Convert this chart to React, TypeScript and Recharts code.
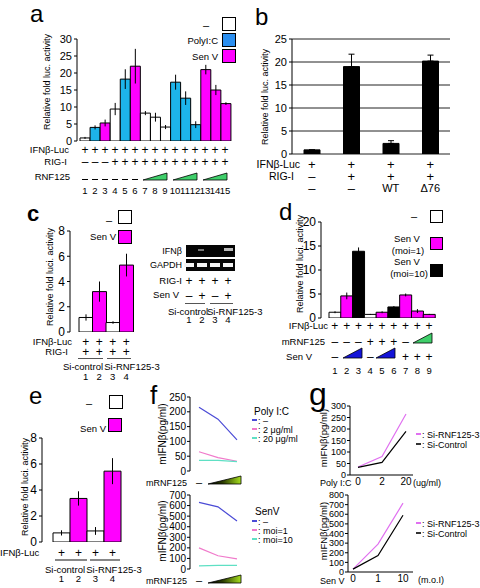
import React from 'react';
import { BarChart, Bar, XAxis, YAxis, CartesianGrid, ErrorBar, Cell, LineChart, Line } from 'recharts';

const FONT = '"Liberation Sans", Arial, Helvetica, sans-serif';
const MAG = '#ff00ff';
const SKY = '#1db4ea';
const SKY_KEY = '#2b8ff0';
const WHITE = '#ffffff';
const BLACK = '#000000';
const GREEN = '#3fcf6a';
const ROYAL = '#1414d8';

// a: IFNb-luc, RIG-I, RNF125 titration
const aLanes = ['1', '2', '3', '4', '5', '6', '7', '8', '9', '10', '11', '12', '13', '14', '15'];
const aTreat = ['-', 'pic', 'sev', '-', 'pic', 'sev', '-', '-', '-', 'pic', 'pic', 'pic', 'sev', 'sev', 'sev'];
const aFold = [0.9, 4.0, 5.3, 9.4, 18.2, 22.0, 8.2, 7.0, 4.1, 17.3, 12.6, 4.8, 21.0, 15.0, 11.0];
const aErr = [0.3, 0.6, 1.0, 1.8, 2.9, 5.1, 0.6, 1.3, 0.6, 2.2, 2.0, 1.0, 1.4, 1.5, 0.4];
const aRigI = ['–', '–', '–', '+', '+', '+', '+', '+', '+', '+', '+', '+', '+', '+', '+'];
const aWedges = [[7, 9], [10, 12], [13, 15]];

// b: RNF125 WT vs delta76
const bLanes = ['1', '2', '3', '4'];
const bFold = [0.9, 19.0, 2.3, 20.2];
const bErrUp = [0, 2.7, 0.6, 1.3];
const bIfnLuc = ['+', '+', '+', '+'];
const bRigI = ['–', '+', '+', '+'];
const bRnf = ['–', '–', 'WT', 'Δ76'];

// c: si-RNA knockdown
const cLanes = ['1', '2', '3', '4'];
const cTreat = ['-', 'sev', '-', 'sev'];
const cFold = [1.15, 3.2, 0.75, 5.3];
const cErr = [0.25, 0.8, 0.1, 0.9];

// d: mouse RNF125
const dLanes = ['1', '2', '3', '4', '5', '6', '7', '8', '9'];
const dTreat = ['-', 'moi1', 'moi10', '-', 'moi1', 'moi10', 'moi1', 'moi1', 'moi1'];
const dFold = [1.2, 4.6, 13.9, 0.75, 1.2, 2.3, 4.8, 1.45, 0.75];
const dErr = [0.2, 0.7, 0.8, 0.1, 0.2, 0.2, 0.3, 0.4, 0.1];
const dMrnf = ['–', '–', '–', '+', '+', '+', '–'];
const dSenV = ['–', '', '', '–', '', '', '+', '+', '+'];

// e: si-RNA, no RIG-I
const eLanes = ['1', '2', '3', '4'];
const eTreat = ['-', 'sev', '-', 'sev'];
const eFold = [0.7, 3.35, 0.85, 5.45];
const eErr = [0.2, 0.55, 0.3, 1.0];

// f: IFNb ELISA vs mRNF125 dose
const fDose = ['low', 'mid', 'high'];
const fPicNone = [215, 175, 105];
const fPic2 = [65, 45, 33];
const fPic20 = [36, 36, 32];
const fSevNone = [630, 588, 455];
const fSevMoi1 = [200, 125, 95];
const fSevMoi10 = [30, 35, 35];

// g: IFNb ELISA, si-RNF125-3 vs si-control
const gPicDose = ['0', '2', '20'];
const gPicRnf = [35, 80, 265];
const gPicCtl = [33, 55, 190];
const gSevDose = ['0', '1', '10'];
const gSevRnf = [30, 290, 715];
const gSevCtl = [30, 170, 590];

const treatFill: Record<string, string> = { '-': WHITE, pic: SKY, sev: MAG, moi1: MAG, moi10: BLACK };

const Txt = ({ x, y, s = 9.5, a = 'c', children, style }: any) => {
  const tx = a === 'l' ? '0' : a === 'r' ? '-100%' : '-50%';
  return (
    <div style={{ position: 'absolute', left: x, top: y, transform: `translate(${tx}, -50%)`, fontSize: s, lineHeight: 1, whiteSpace: 'nowrap', ...style }}>
      {children}
    </div>
  );
};

const VTxt = ({ x, y, s = 9, children }: any) => (
  <div style={{ position: 'absolute', left: x, top: y, transform: 'translate(-50%, -50%) rotate(-90deg)', fontSize: s, lineHeight: 1, whiteSpace: 'nowrap' }}>
    {children}
  </div>
);

const Swatch = ({ x, y, w = 14, h = 14, fill }: any) => (
  <div style={{ position: 'absolute', left: x, top: y, width: w, height: h, background: fill, border: '1px solid #000', boxSizing: 'border-box' }} />
);

const HLine = ({ x1, x2, y, c = '#000', t = 1 }: any) => (
  <div style={{ position: 'absolute', left: x1, top: y, width: x2 - x1, height: t, background: c }} />
);

const Wedge = ({ x1, x2, yb, h, fill, grad }: any) => {
  const w = x2 - x1;
  const id = `g${x1}${yb}`;
  return (
    <svg style={{ position: 'absolute', left: x1, top: yb - h, overflow: 'visible' }} width={w} height={h}>
      {grad && (
        <defs>
          <linearGradient id={id} x1="0" x2="1" y1="0" y2="0">
            <stop offset="0" stopColor="#000" />
            <stop offset="0.45" stopColor="#2a3a00" />
            <stop offset="1" stopColor="#a6e01e" />
          </linearGradient>
        </defs>
      )}
      <polygon points={`0,${h} ${w},${h} ${w},0`} fill={grad ? `url(#${id})` : fill} stroke="#000" strokeWidth={0.8} />
    </svg>
  );
};

function BarPanel({ x0, y0, w, h, yw, rows, max, ticks, padL, padR, barSize, fills, grid, capW = 0, fs = 11 }: any) {
  const mt = 8;
  const mb = 8;
  const mr = 2;
  return (
    <div style={{ position: 'absolute', left: x0 - yw, top: y0 - mt }}>
      <BarChart width={yw + w + mr} height={mt + h + mb} data={rows} margin={{ top: mt, right: mr, bottom: mb, left: 0 }} barCategoryGap={0} barGap={0}>
        {grid && <CartesianGrid vertical={false} stroke="#222" />}
        <XAxis dataKey="lane" height={0} tick={false} tickLine={false} axisLine={{ stroke: '#000' }} padding={{ left: padL, right: padR }} />
        <YAxis width={yw} domain={[0, max]} ticks={ticks} interval={0} tickSize={3} tickMargin={2} tick={{ fill: '#000', fontSize: fs }} axisLine={{ stroke: '#000' }} tickLine={{ stroke: '#000' }} allowDataOverflow />
        <Bar dataKey="v" barSize={barSize} stroke="#000" strokeWidth={1} isAnimationActive={false}>
          {rows.map((_r: any, i: number) => (
            <Cell key={`c-${i}`} fill={fills[i]} />
          ))}
          <ErrorBar dataKey="e" width={capW} stroke="#000" strokeWidth={1} direction="y" isAnimationActive={false} />
        </Bar>
      </BarChart>
    </div>
  );
}

function LinePanel({ x0, y0, w, h, yw, rows, max, ticks, padL, padR, series, showX, fs = 10 }: any) {
  const mt = 8;
  const xh = showX ? 14 : 0;
  const mb = 7;
  const mr = 2;
  return (
    <div style={{ position: 'absolute', left: x0 - yw, top: y0 - mt }}>
      <LineChart width={yw + w + mr} height={mt + h + xh + mb} data={rows} margin={{ top: mt, right: mr, bottom: mb, left: 0 }}>
        <XAxis
          dataKey="x"
          height={xh}
          padding={{ left: padL, right: padR }}
          axisLine={{ stroke: '#000' }}
          tickLine={showX ? false : { stroke: '#000' }}
          mirror={!showX}
          tickSize={showX ? 2 : 3}
          tickMargin={1}
          tick={showX ? { fill: '#000', fontSize: 10 } : false}
          interval={0}
        />
        <XAxis xAxisId="top" orientation="top" dataKey="x" height={0} tick={false} tickLine={false} axisLine={{ stroke: '#000' }} />
        <YAxis width={yw} domain={[0, max]} ticks={ticks} interval={0} tickSize={3} tickMargin={1} tick={{ fill: '#000', fontSize: fs }} axisLine={{ stroke: '#000' }} tickLine={{ stroke: '#000' }} />
        <YAxis yAxisId="right" orientation="right" width={0} tick={false} tickLine={false} axisLine={{ stroke: '#000' }} />
        {series.map((s: any) => (
          <Line key={s.key} dataKey={s.key} stroke={s.color} strokeWidth={1.2} dot={false} isAnimationActive={false} />
        ))}
      </LineChart>
    </div>
  );
}

const LegendLine = ({ x, y, color, label }: any) => (
  <>
    <HLine x1={x} x2={x + 5} y={y - 2} c={color} t={1.5} />
    <Txt x={x + 6} y={y} a="l" s={9}>{label}</Txt>
  </>
);

export default function App() {
  const aRows = aLanes.map((lane, i) => ({ lane, v: aFold[i], e: aErr[i] }));
  const bRows = bLanes.map((lane, i) => ({ lane, v: bFold[i], e: [0, bErrUp[i]] }));
  const cRows = cLanes.map((lane, i) => ({ lane, v: cFold[i], e: cErr[i] }));
  const dRows = dLanes.map((lane, i) => ({ lane, v: dFold[i], e: dErr[i] }));
  const eRows = eLanes.map((lane, i) => ({ lane, v: eFold[i], e: eErr[i] }));
  const fPicRows = fDose.map((x, i) => ({ x, none: fPicNone[i], d2: fPic2[i], d20: fPic20[i] }));
  const fSevRows = fDose.map((x, i) => ({ x, none: fSevNone[i], m1: fSevMoi1[i], m10: fSevMoi10[i] }));
  const gPicRows = gPicDose.map((x, i) => ({ x, rnf: gPicRnf[i], ctl: gPicCtl[i] }));
  const gSevRows = gSevDose.map((x, i) => ({ x, rnf: gSevRnf[i], ctl: gSevCtl[i] }));

  const aX = (i: number) => 80 + 10 * i + 5;
  const bX = (i: number) => 292 + 39.5 * (i + 0.5);
  const cX = (i: number) => 79 + 13.5 * (i + 0.5);
  const dX = (i: number) => 329 + 11.78 * (i + 0.5);
  const eX = (i: number) => 53 + 17 * (i + 0.5);

  const fBlue = '#4b4bd6';
  const fPink = '#f07acb';
  const fTeal = '#5fe0c4';
  const gPink = '#e070f0';

  return (
    <div style={{ position: 'absolute', left: 0, top: 0, width: 480, height: 588, background: '#fff', fontFamily: FONT, color: '#000', overflow: 'hidden' }}>
      {/* ---------- a ---------- */}
      <Txt x={30} y={14} a="l" s={24}>a</Txt>
      <BarPanel x0={77} y0={39} w={163} h={102} yw={30} rows={aRows} max={30} ticks={[0, 5, 10, 15, 20, 25, 30]} padL={3} padR={9} fills={aTreat.map(t => treatFill[t])} />
      <VTxt x={47} y={82}>Relative fold luc. activity</VTxt>
      <Txt x={209} y={25} a="r" s={11}>–</Txt>
      <Swatch x={222} y={17} fill={WHITE} />
      <Txt x={218} y={41} a="r" s={9.5}>PolyI:C</Txt>
      <Swatch x={222} y={33} fill={SKY_KEY} />
      <Txt x={218} y={57} a="r" s={9.5}>Sen V</Txt>
      <Swatch x={222} y={49} fill={MAG} />
      <Txt x={69} y={150} a="r">IFNβ-Luc</Txt>
      {aLanes.map((_l, i) => <Txt key={`a1${i}`} x={aX(i)} y={150} s={12}>+</Txt>)}
      <Txt x={67} y={162} a="r">RIG-I</Txt>
      {aRigI.map((r, i) => <Txt key={`a2${i}`} x={aX(i)} y={162} s={12}>{r}</Txt>)}
      <Txt x={70} y={177} a="r">RNF125</Txt>
      {aLanes.slice(0, 6).map((_l, i) => <HLine key={`a3${i}`} x1={aX(i) - 3} x2={aX(i) + 3} y={179} />)}
      {aWedges.map(([s, e]) => <Wedge key={`aw${s}`} x1={aX(s - 1) - 2} x2={aX(e - 1) + 2} yb={180} h={7} fill={GREEN} />)}
      {aLanes.map((l, i) => <Txt key={`a4${i}`} x={aX(i)} y={191} s={9.5}>{l}</Txt>)}

      {/* ---------- b ---------- */}
      <Txt x={255} y={17} a="l" s={24}>b</Txt>
      <BarPanel x0={292} y0={39} w={158} h={115} yw={30} rows={bRows} max={25} ticks={[0, 5, 10, 15, 20, 25]} padL={0} padR={0} barSize={16} fills={bLanes.map(() => BLACK)} grid capW={3} />
      <VTxt x={265} y={97}>Relative fold luc. activity</VTxt>
      <Txt x={300} y={164} a="r" s={10.5}>IFNβ-Luc</Txt>
      {bIfnLuc.map((r, i) => <Txt key={`b1${i}`} x={bX(i)} y={164} s={13}>{r}</Txt>)}
      <Txt x={294} y={176} a="r" s={10.5}>RIG-I</Txt>
      {bRigI.map((r, i) => <Txt key={`b2${i}`} x={bX(i)} y={176} s={13}>{r}</Txt>)}
      {bRnf.map((r, i) => <Txt key={`b3${i}`} x={bX(i)} y={188} s={r.length > 1 ? 11 : 13}>{r}</Txt>)}

      {/* ---------- c ---------- */}
      <Txt x={27} y={214} a="l" s={22} style={{ fontWeight: 'bold' }}>c</Txt>
      <Txt x={112} y={220} a="r" s={11}>–</Txt>
      <Swatch x={118} y={210} fill={WHITE} />
      <Txt x={116} y={237} a="r" s={9.5}>Sen V</Txt>
      <Swatch x={118} y={230} fill={MAG} />
      <BarPanel x0={70} y0={231} w={72} h={101} yw={26} rows={cRows} max={8} ticks={[0, 2, 4, 6, 8]} padL={9} padR={9} fills={cTreat.map(t => treatFill[t])} fs={12} />
      <VTxt x={50} y={277}>Relative fold luci. activity</VTxt>
      <Txt x={72} y={342} a="r">IFNβ-Luc</Txt>
      {cLanes.map((_l, i) => <Txt key={`c1${i}`} x={cX(i)} y={342} s={12}>+</Txt>)}
      <Txt x={68} y={352} a="r">RIG-I</Txt>
      {cLanes.map((_l, i) => <Txt key={`c2${i}`} x={cX(i)} y={352} s={12}>+</Txt>)}
      <HLine x1={78} x2={103} y={358} c="#555" />
      <HLine x1={107} x2={131} y={358} c="#555" />
      <Txt x={83} y={367} s={9.5}>Si-control</Txt>
      <Txt x={132} y={367} s={9.5}>Si-RNF125-3</Txt>
      {cLanes.map((l, i) => <Txt key={`c3${i}`} x={cX(i)} y={377} s={9.5}>{l}</Txt>)}
      {/* RT-PCR gel */}
      <Txt x={182} y={251} a="r" s={9}>IFNβ</Txt>
      <div style={{ position: 'absolute', left: 186, top: 245, width: 49, height: 12, background: '#050505' }} />
      <div style={{ position: 'absolute', left: 198, top: 249, width: 6, height: 2, background: '#777' }} />
      <div style={{ position: 'absolute', left: 224, top: 248, width: 9, height: 3, background: '#bbb' }} />
      <Txt x={182} y={265} a="r" s={9}>GAPDH</Txt>
      <div style={{ position: 'absolute', left: 186, top: 259, width: 49, height: 12, background: '#050505' }} />
      {[189, 202, 215, 228].map(x => (
        <div key={`gp${x}`} style={{ position: 'absolute', left: x - 5, top: 263, width: 10, height: 4, background: '#f4f4f4' }} />
      ))}
      <Txt x={182} y={281} a="r" s={9.5}>RIG-I</Txt>
      {[189, 202, 215, 228].map(x => <Txt key={`gr${x}`} x={x} y={281} s={12}>+</Txt>)}
      <Txt x={179} y={295} a="r" s={9.5}>Sen V</Txt>
      {['–', '+', '–', '+'].map((r, i) => <Txt key={`gs${i}`} x={[189, 202, 215, 228][i]} y={296} s={12}>{r}</Txt>)}
      <HLine x1={185} x2={205} y={303} c="#555" />
      <HLine x1={210} x2={233} y={303} c="#555" />
      <Txt x={168} y={312} a="l" s={9.5}>Si-control</Txt>
      <Txt x={207} y={312} a="l" s={9.5}>Si-RNF125-3</Txt>
      {['1', '2', '3', '4'].map((l, i) => <Txt key={`gn${i}`} x={[189, 202, 215, 228][i]} y={320} s={9.5}>{l}</Txt>)}

      {/* ---------- d ---------- */}
      <Txt x={279} y={212} a="l" s={24}>d</Txt>
      <Txt x={417} y={216} a="r" s={11}>–</Txt>
      <Swatch x={430} y={210} w={13} h={13} fill={WHITE} />
      <Txt x={407} y={239} s={9.5}>Sen V</Txt>
      <Txt x={408} y={251} s={9.5}>(moi=1)</Txt>
      <Swatch x={430} y={237} w={13} h={13} fill={MAG} />
      <Txt x={407} y={262} s={9.5}>Sen V</Txt>
      <Txt x={409} y={274} s={9.5}>(moi=10)</Txt>
      <Swatch x={430} y={264} w={13} h={13} fill={BLACK} />
      <BarPanel x0={321} y0={222} w={122} h={96} yw={26} rows={dRows} max={20} ticks={[0, 5, 10, 15, 20]} padL={8} padR={8} fills={dTreat.map(t => treatFill[t])} fs={12} />
      <VTxt x={300} y={264}>Relative fold luci. activity</VTxt>
      <Txt x={328} y={326} a="r">IFNβ-Luc</Txt>
      {dLanes.map((_l, i) => <Txt key={`d1${i}`} x={dX(i)} y={326} s={12}>+</Txt>)}
      <Txt x={325} y={342} a="r">mRNF125</Txt>
      {dMrnf.map((r, i) => <Txt key={`d2${i}`} x={dX(i)} y={342} s={12}>{r}</Txt>)}
      <Wedge x1={413} x2={432} yb={343} h={10} fill={GREEN} />
      <Txt x={312} y={357} a="r">Sen V</Txt>
      {dSenV.map((r, i) => (r ? <Txt key={`d3${i}`} x={dX(i)} y={357} s={12}>{r}</Txt> : null))}
      <Wedge x1={343} x2={362} yb={358} h={10} fill={ROYAL} />
      <Wedge x1={376} x2={395} yb={358} h={10} fill={ROYAL} />
      {dLanes.map((l, i) => <Txt key={`d4${i}`} x={dX(i)} y={371} s={9.5}>{l}</Txt>)}

      {/* ---------- e ---------- */}
      <Txt x={29} y={396} a="l" s={24}>e</Txt>
      <Txt x={92} y={403} a="r" s={11}>–</Txt>
      <Swatch x={109} y={395} fill={WHITE} />
      <Txt x={106} y={429} a="r" s={9.5}>Sen V</Txt>
      <Swatch x={108} y={418} fill={MAG} />
      <BarPanel x0={42} y0={438} w={91} h={104} yw={24} rows={eRows} max={8} ticks={[0, 2, 4, 6, 8]} padL={11} padR={12} fills={eTreat.map(t => treatFill[t])} fs={12} />
      <VTxt x={25} y={487}>Relative fold luci. activity</VTxt>
      <Txt x={0} y={553} a="l">IFNβ-Luc</Txt>
      {eLanes.map((_l, i) => <Txt key={`e1${i}`} x={eX(i)} y={553} s={12}>+</Txt>)}
      <HLine x1={55} x2={87} y={559} c="#888" t={2} />
      <HLine x1={90} x2={120} y={559} c="#888" t={2} />
      <Txt x={65} y={570} s={9.5}>Si-control</Txt>
      <Txt x={114} y={570} s={9.5}>Si-RNF125-3</Txt>
      {eLanes.map((l, i) => <Txt key={`e2${i}`} x={eX(i)} y={579} s={9.5}>{l}</Txt>)}

      {/* ---------- f ---------- */}
      <Txt x={150} y={395} a="l" s={26}>f</Txt>
      <LinePanel x0={190} y0={397} w={57} h={74} yw={28} rows={fPicRows} max={250} ticks={[0, 50, 100, 150, 200, 250]} padL={9} padR={10}
        series={[{ key: 'none', color: fBlue }, { key: 'd2', color: fPink }, { key: 'd20', color: fTeal }]} />
      <VTxt x={163} y={434} s={10}>mIFNβ(pg/ml)</VTxt>
      <Txt x={254} y={412} a="l" s={10}>Poly I:C</Txt>
      <LegendLine x={252} y={421} color={fBlue} label=": –" />
      <LegendLine x={252} y={430} color={fPink} label=": 2  μg/ml" />
      <LegendLine x={252} y={439} color={fTeal} label=": 20 μg/ml" />
      <Txt x={187} y={483} a="r" s={9}>mRNF125</Txt>
      <Txt x={199} y={482} s={11}>–</Txt>
      <Wedge x1={208} x2={241} yb={484} h={8} grad />

      <LinePanel x0={190} y0={495} w={57} h={74} yw={28} rows={fSevRows} max={700} ticks={[0, 100, 200, 300, 400, 500, 600, 700]} padL={9} padR={10}
        series={[{ key: 'none', color: fBlue }, { key: 'm1', color: fPink }, { key: 'm10', color: fTeal }]} />
      <VTxt x={163} y={531} s={10}>mIFNβ(pg/ml)</VTxt>
      <Txt x={255} y={512} a="l" s={10}>SenV</Txt>
      <LegendLine x={252} y={522} color={fBlue} label=": –" />
      <LegendLine x={252} y={531} color={fPink} label=": moi=1" />
      <LegendLine x={252} y={540} color={fTeal} label=": moi=10" />
      <Txt x={187} y={581} a="r" s={9}>mRNF125</Txt>
      <Txt x={199} y={580} s={11}>–</Txt>
      <Wedge x1={208} x2={241} yb={583} h={8} grad />

      {/* ---------- g ---------- */}
      <Txt x={309} y={394} a="l" s={32}>g</Txt>
      <LinePanel x0={350} y0={406} w={63} h={69} yw={24} rows={gPicRows} max={300} ticks={[0, 50, 100, 150, 200, 250, 300]} padL={8} padR={7} showX fs={9}
        series={[{ key: 'rnf', color: gPink }, { key: 'ctl', color: BLACK }]} />
      <VTxt x={324} y={438} s={9.5}>mIFNβ(pg/ml)</VTxt>
      <LegendLine x={416} y={435} color={gPink} label=": Si-RNF125-3" />
      <LegendLine x={416} y={445} color="#333" label=": Si-Control" />
      <Txt x={320} y={483} a="l" s={9}>Poly I:C</Txt>
      <Txt x={413} y={483} a="l" s={9}>(ug/ml)</Txt>

      <LinePanel x0={348} y0={495} w={65} h={77} yw={24} rows={gSevRows} max={800} ticks={[0, 100, 200, 300, 400, 500, 600, 700, 800]} padL={5} padR={10} showX fs={9}
        series={[{ key: 'rnf', color: gPink }, { key: 'ctl', color: BLACK }]} />
      <VTxt x={324} y={531} s={9.5}>mIFNβ(pg/ml)</VTxt>
      <LegendLine x={416} y={524} color={gPink} label=": Si-RNF125-3" />
      <LegendLine x={416} y={534} color="#333" label=": Si-Control" />
      <Txt x={320} y={581} a="l" s={9}>Sen V</Txt>
      <Txt x={418} y={580} a="l" s={9}>(m.o.I)</Txt>
    </div>
  );
}
